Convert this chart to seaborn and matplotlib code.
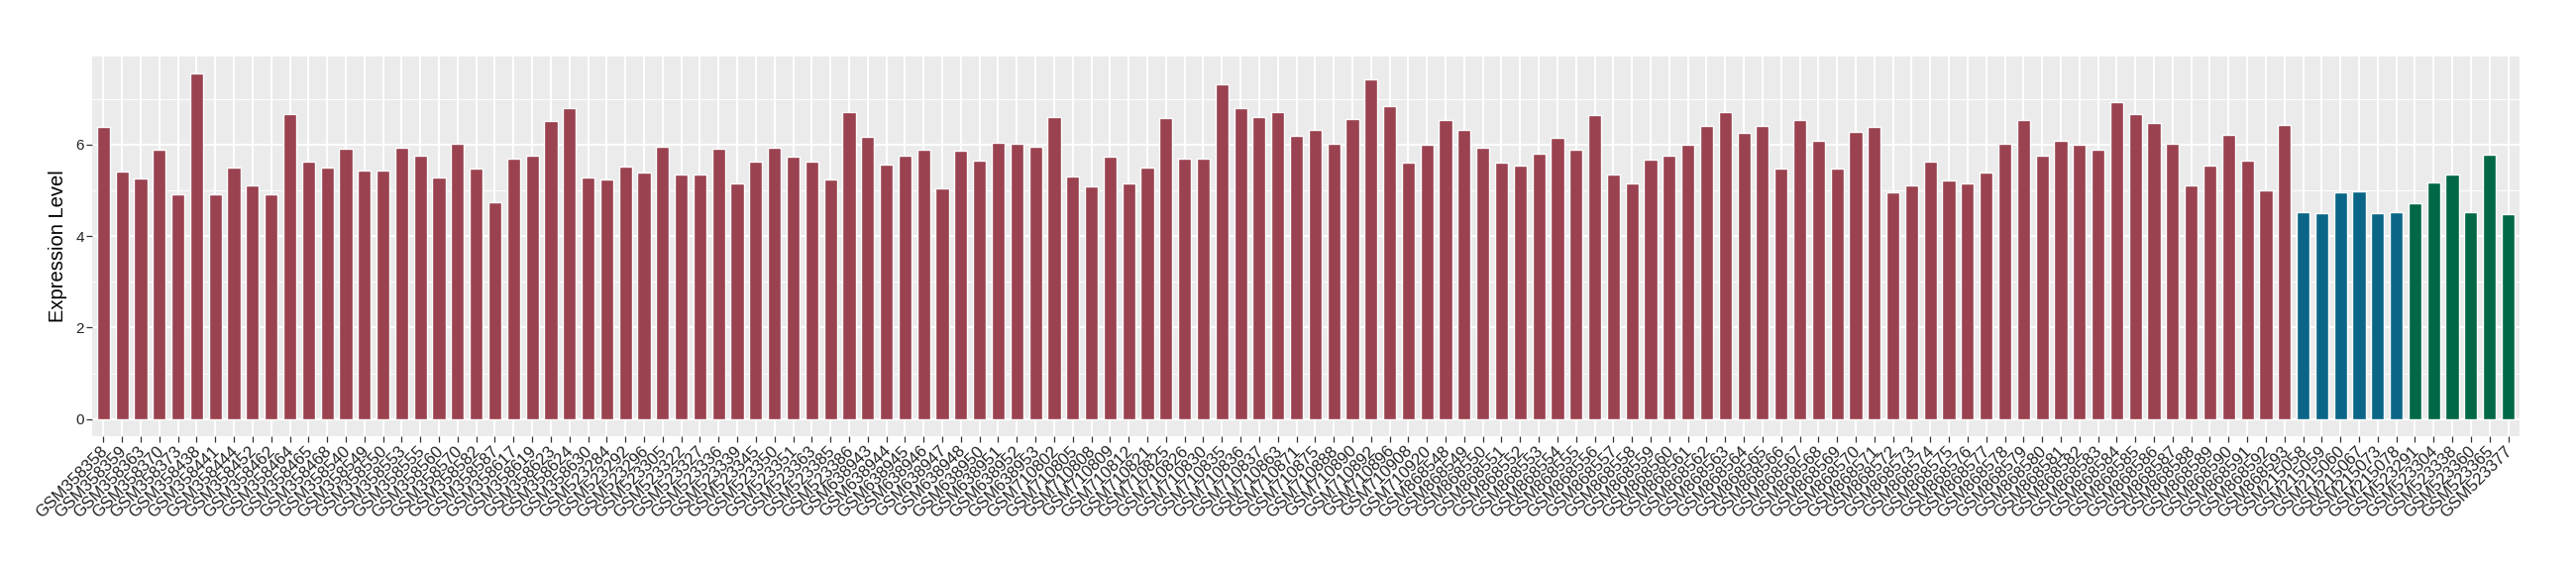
import matplotlib
matplotlib.use("Agg")
import matplotlib.pyplot as plt
import matplotlib.transforms as mtransforms
from matplotlib.ticker import MultipleLocator
import seaborn as sns
import pandas as pd

# sample ids, in plotting order
red_samples = [
    "GSM358358", "GSM358359", "GSM358363", "GSM358370", "GSM358373", "GSM358438",
    "GSM358441", "GSM358444", "GSM358452", "GSM358462", "GSM358464", "GSM358465",
    "GSM358468", "GSM358540", "GSM358549", "GSM358550", "GSM358553", "GSM358555",
    "GSM358560", "GSM358570", "GSM358582", "GSM358587", "GSM358617", "GSM358619",
    "GSM358623", "GSM358624", "GSM358630",
    "GSM523284", "GSM523292", "GSM523296", "GSM523305", "GSM523322", "GSM523327",
    "GSM523336", "GSM523339", "GSM523345", "GSM523350", "GSM523351", "GSM523363",
    "GSM523385", "GSM523386",
    "GSM638943", "GSM638944", "GSM638945", "GSM638946", "GSM638947", "GSM638948",
    "GSM638950", "GSM638951", "GSM638952", "GSM638953",
    "GSM710802", "GSM710805", "GSM710808", "GSM710809", "GSM710812", "GSM710821",
    "GSM710825", "GSM710826", "GSM710830", "GSM710835", "GSM710836", "GSM710837",
    "GSM710863", "GSM710871", "GSM710875", "GSM710888", "GSM710890", "GSM710892",
    "GSM710896", "GSM710908", "GSM710920",
    "GSM868548", "GSM868549", "GSM868550", "GSM868551", "GSM868552", "GSM868553",
    "GSM868554", "GSM868555", "GSM868556", "GSM868557", "GSM868558", "GSM868559",
    "GSM868560", "GSM868561", "GSM868562", "GSM868563", "GSM868564", "GSM868565",
    "GSM868566", "GSM868567", "GSM868568", "GSM868569", "GSM868570", "GSM868571",
    "GSM868572", "GSM868573", "GSM868574", "GSM868575", "GSM868576", "GSM868577",
    "GSM868578", "GSM868579", "GSM868580", "GSM868581", "GSM868582", "GSM868583",
    "GSM868584", "GSM868585", "GSM868586", "GSM868587", "GSM868588", "GSM868589",
    "GSM868590", "GSM868591", "GSM868592", "GSM868593",
]
blue_samples = ["GSM215058", "GSM215059", "GSM215060", "GSM215067", "GSM215073", "GSM215078"]
green_samples = ["GSM523291", "GSM523304", "GSM523338", "GSM523360", "GSM523365", "GSM523377"]

red_values = [
    6.38, 5.42, 5.27, 5.88, 4.92, 7.55, 4.92, 5.51, 5.10, 4.92, 6.68, 5.64,
    5.49, 5.92, 5.44, 5.44, 5.94, 5.75, 5.29, 6.01, 5.47, 4.75, 5.70, 5.77,
    6.51, 6.79, 5.29,
    5.25, 5.53, 5.40, 5.96, 5.34, 5.34, 5.92, 5.16, 5.62, 5.94, 5.73, 5.62,
    5.25, 6.72,
    6.18, 5.57, 5.75, 5.90, 5.05, 5.86, 5.66, 6.05, 6.01, 5.96,
    6.61, 5.31, 5.08, 5.73, 5.16, 5.51, 6.59, 5.70, 5.70, 7.33, 6.81, 6.61,
    6.72, 6.20, 6.33, 6.01, 6.57, 7.42, 6.85, 5.60, 5.99,
    6.55, 6.33, 5.94, 5.60, 5.55, 5.81, 6.14, 5.88, 6.64, 5.34, 5.16, 5.68,
    5.77, 5.99, 6.40, 6.72, 6.25, 6.42, 5.47, 6.53, 6.09, 5.47, 6.29, 6.38,
    4.95, 5.12, 5.62, 5.21, 5.16, 5.40, 6.01, 6.55, 5.75, 6.09, 5.99, 5.88,
    6.94, 6.66, 6.48, 6.03, 5.12, 5.55, 6.22, 5.66, 5.01, 6.44,
]
blue_values = [4.53, 4.51, 4.95, 4.97, 4.51, 4.53]
green_values = [4.71, 5.18, 5.34, 4.53, 5.79, 4.49]

group_colors = {"red": "#9A4250", "blue": "#0B6587", "green": "#006747"}

df = pd.DataFrame({
    "sample": red_samples + blue_samples + green_samples,
    "value": red_values + blue_values + green_values,
    "group": ["red"] * len(red_samples) + ["blue"] * len(blue_samples) + ["green"] * len(green_samples),
})

sns.set_theme(style="darkgrid", rc={
    "axes.facecolor": "#EBEBEB",
    "grid.color": "white",
    "figure.facecolor": "white",
})
plt.rcParams["font.family"] = ["Liberation Sans", "DejaVu Sans"]

fig = plt.figure(figsize=(26, 5.8), dpi=100)
ax = fig.add_axes([0.0358, 0.241, 0.978 - 0.0358, 0.902 - 0.241])

sns.barplot(data=df, x="sample", y="value", hue="group", palette=group_colors,
            dodge=False, width=0.7, saturation=1, legend=False, ax=ax)

ax.set_xlim(-0.6, len(df) - 0.4)
ax.set_ylim(-0.378, 7.93)
ax.yaxis.set_major_locator(MultipleLocator(2))
ax.yaxis.set_minor_locator(MultipleLocator(1))
ax.grid(which="major", color="white", linewidth=1.4)
ax.grid(which="minor", axis="y", color="white", linewidth=0.7)
ax.set_axisbelow(True)
for s in ax.spines.values():
    s.set_visible(False)

ax.set_xlabel("")
ax.set_ylabel("Expression Level", fontsize=14.5, color="black", labelpad=6)
ax.tick_params(axis="both", which="major", length=4, width=0.9, color="#333333",
               bottom=True, left=True)
ax.tick_params(axis="y", labelsize=11, labelcolor="#222222", pad=2)
ax.tick_params(axis="x", labelsize=12.2, labelcolor="#222222", pad=1)

# shift rotated labels a bit right, like ggplot hjust=1
shift = mtransforms.ScaledTranslation(0.07, 0, fig.dpi_scale_trans)
for lab in ax.get_xticklabels():
    lab.set_rotation(45)
    lab.set_ha("right")
    lab.set_transform(lab.get_transform() + shift)

fig.savefig("out.png", dpi=100)
plt.close(fig)
